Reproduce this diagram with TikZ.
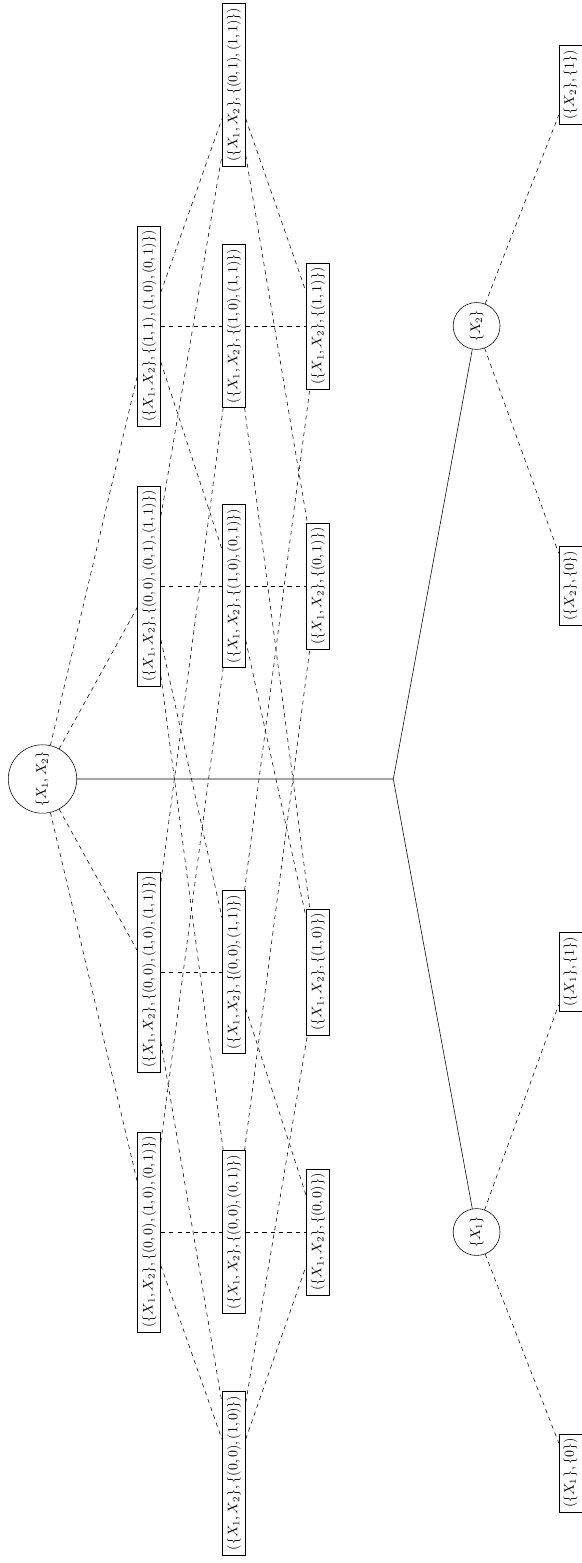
\documentclass[tikz,border=0pt]{standalone}
\usepackage{amsmath, amssymb}

\begin{document}
\begin{tikzpicture}[rotate=90, transform shape,
                setbox/.style={draw, rectangle},
                varnode/.style={draw, circle},
                link/.style={dashed}]
                \useasboundingbox (-19.867,-13.671) rectangle (19.740,1.077);

                \node[varnode] (R) at (0,0) {$\{X_1,X_2\}$};

                % three points
                \node[setbox] (A1) at (11.48,-2.70) {$(\{X_1,X_2\},\{(1,1),(1,0),(0,1)\})$};
                \node[setbox] (A2) at (4.89,-2.70) {$(\{X_1,X_2\},\{(0,0),(0,1),(1,1)\})$};
                \node[setbox] (A3) at (-4.89,-2.70) {$(\{X_1,X_2\},\{(0,0),(1,0),(1,1)\})$};
                \node[setbox] (A4) at (-11.48,-2.70) {$(\{X_1,X_2\},\{(0,0),(1,0),(0,1)\})$};

                % two points
                \node[setbox] (B1) at (17.59,-4.85) {$(\{X_1,X_2\},\{(0,1),(1,1)\})$};
                \node[setbox] (B2) at (11.48,-4.85) {$(\{X_1,X_2\},\{(1,0),(1,1)\})$};
                \node[setbox] (B3) at (4.89,-4.85) {$(\{X_1,X_2\},\{(1,0),(0,1)\})$};
                \node[setbox] (B4) at (-4.89,-4.85) {$(\{X_1,X_2\},\{(0,0),(1,1)\})$};
                \node[setbox] (B5) at (-11.48,-4.85) {$(\{X_1,X_2\},\{(0,0),(0,1)\})$};
                \node[setbox] (B6) at (-17.59,-4.85) {$(\{X_1,X_2\},\{(0,0),(1,0)\})$};

                % one point
                \node[setbox] (C1) at (11.48,-6.98) {$(\{X_1,X_2\},\{(1,1)\})$};
                \node[setbox] (C2) at (4.89,-6.98) {$(\{X_1,X_2\},\{(0,1)\})$};
                \node[setbox] (C3) at (-4.89,-6.98) {$(\{X_1,X_2\},\{(1,0)\})$};
                \node[setbox] (C4) at (-11.48,-6.98) {$(\{X_1,X_2\},\{(0,0)\})$};

                \coordinate (J) at (0,-8.89);
                \node[varnode] (X1) at (-11.48,-11.00) {$\{X_1\}$};
                \node[varnode] (X2) at (11.48,-11.00) {$\{X_2\}$};

                \node[setbox] (L1) at (-17.59,-13.38) {$(\{X_1\},\{0\})$};
                \node[setbox] (L2) at (-4.89,-13.38) {$(\{X_1\},\{1\})$};
                \node[setbox] (L3) at (4.89,-13.38) {$(\{X_2\},\{0\})$};
                \node[setbox] (L4) at (17.59,-13.38) {$(\{X_2\},\{1\})$};

                \foreach \i in {1,2,3,4}
                \draw[link] (R) -- (A\i);

                \foreach \a/\b in {A1/B1,A1/B2,A1/B3,A2/B1,A2/B3,A2/B4,A2/B5,
                                   A3/B2,A3/B4,A3/B6,A4/B3,A4/B5,A4/B6,
                                   B1/C1,B1/C2,B2/C1,B2/C3,B3/C2,B3/C3,
                                   B4/C1,B4/C4,B5/C2,B5/C4,B6/C3,B6/C4}
                \draw[link] (\a) -- (\b);

                \draw (R) -- (J) -- (X1);
                \draw (J) -- (X2);

                \draw[link] (X1) -- (L1);
                \draw[link] (X1) -- (L2);
                \draw[link] (X2) -- (L3);
                \draw[link] (X2) -- (L4);

            \end{tikzpicture}
\end{document}
